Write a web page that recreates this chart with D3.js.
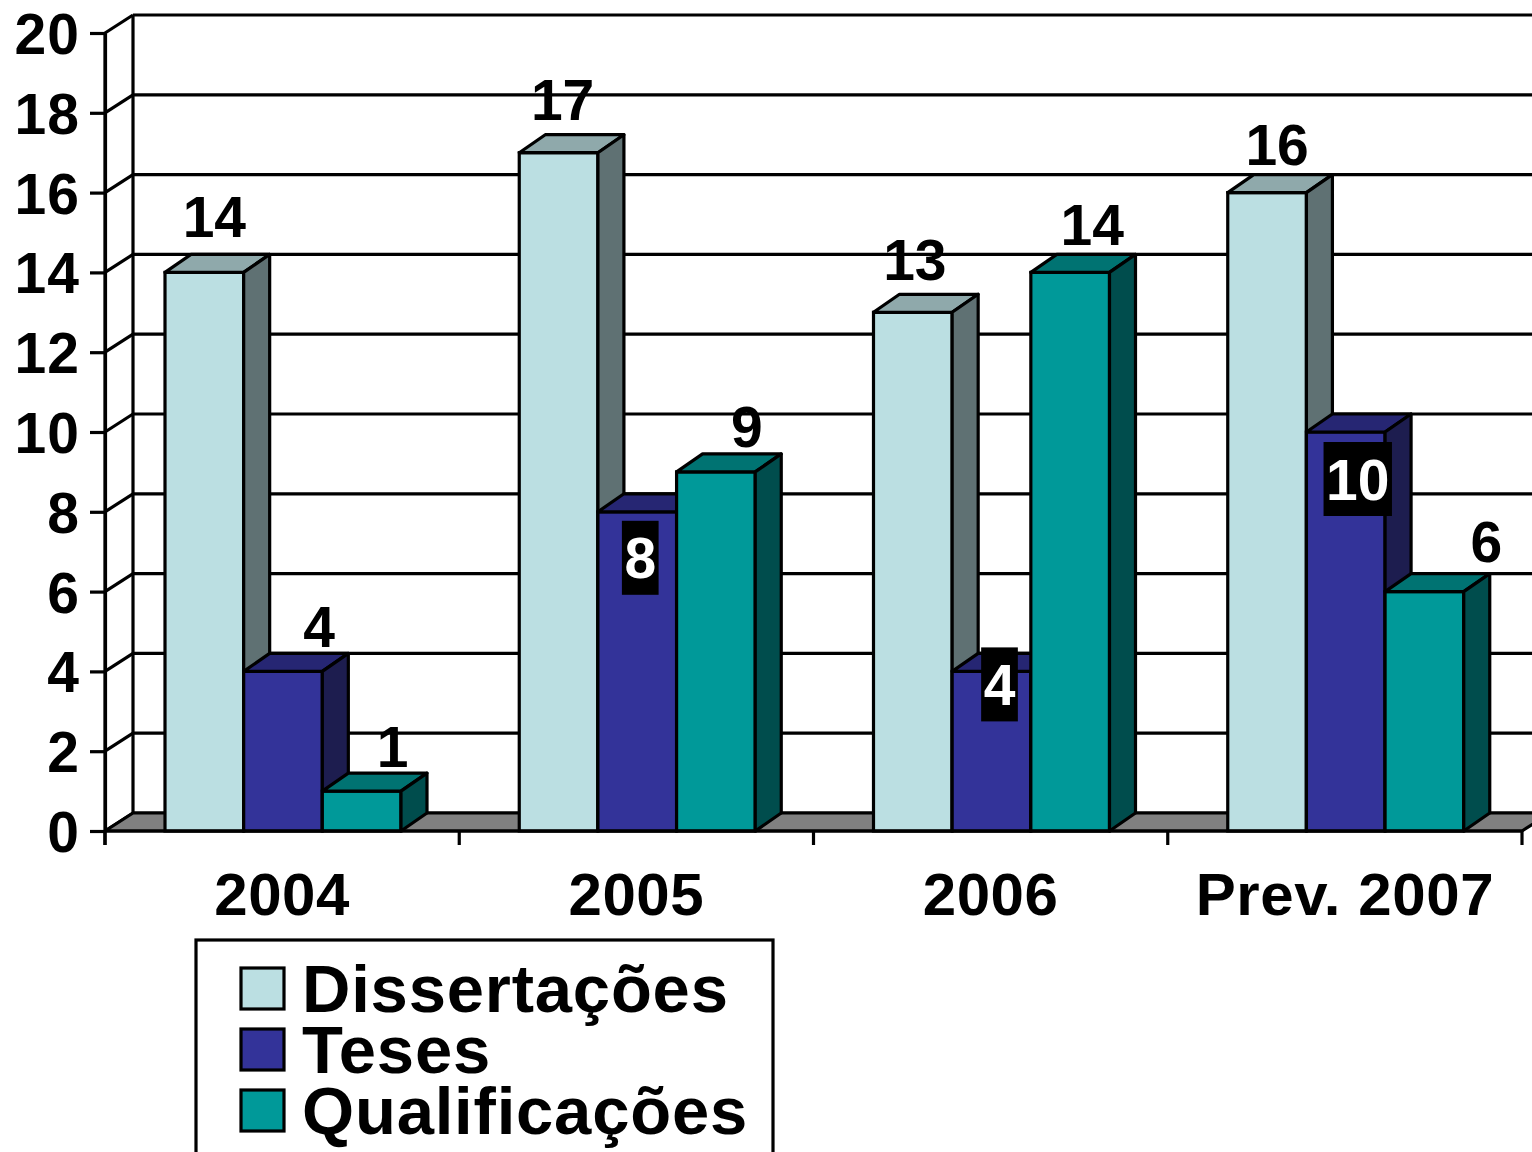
<!DOCTYPE html>
<html>
<head>
<meta charset="utf-8">
<script src="https://cdn.jsdelivr.net/npm/d3@7"></script>
<style>
  html, body { margin: 0; padding: 0; background: #fff; overflow: hidden; }
  svg { display: block; font-family: "Liberation Sans", Arial, Helvetica, sans-serif; font-weight: bold; }
</style>
</head>
<body>
<svg id="chart" width="1532" height="1152"></svg>
<script>
// ---- data ----
const categories = ["2004", "2005", "2006", "Prev. 2007"];
const seriesNames = ["Dissertações", "Teses", "Qualificações"];
const dissertacoes = [14, 17, 13, 16];
const teses = [4, 8, 4, 10];
const qualificacoes = [1, 9, 14, 6];
const yTicks = [0, 2, 4, 6, 8, 10, 12, 14, 16, 18, 20];

const seriesValues = [dissertacoes, teses, qualificacoes];

// ---- styles ----
const faceColors = [
  { front: "#BBDFE2", top: "#8FA9AB", side: "#5F7173" },
  { front: "#333399", top: "#262673", side: "#1D1D4F" },
  { front: "#009999", top: "#007372", side: "#004D4D" }
];
// label placement (per series, per category): dx from front-face centre, dy of baseline / box centre from bar top
const labelLayout = [
  [{dx: 10, dy: -35}, {dx: 4, dy: -33}, {dx: 2, dy: -32}, {dx: 10, dy: -28}],
  [{dx: 36, dy: -24}, {dx: 3, dy: 46, inv: true}, {dx: 8, dy: 13, inv: true}, {dx: 12, dy: 47, inv: true}],
  [{dx: 31, dy: -24}, {dx: 31, dy: -25}, {dx: 22, dy: -27}, {dx: 62, dy: -30}]
];

const svg = d3.select("#chart");
const W = 1532;
const wallDX = 28, wallDY = -18;
const barDX = 26, barDY = -18;
const SW = 3.2;

const y = d3.scaleLinear().domain([0, 20]).range([831, 33]);
const x0 = d3.scaleBand().domain(categories).range([105, 1522]).padding(0);
const x1 = d3.scaleBand().domain(seriesNames).range([60, 296]).padding(0);

const xL = x0.range()[0], xR = x0.range()[1];
const y0 = y(0);

// back-wall grid lines
svg.append("g").selectAll("line").data(yTicks).join("line")
  .attr("x1", xL + wallDX).attr("x2", W + 40)
  .attr("y1", d => y(d) + wallDY).attr("y2", d => y(d) + wallDY)
  .attr("stroke", "#000").attr("stroke-width", SW);

// side wall diagonals
svg.append("g").selectAll("line").data(yTicks).join("line")
  .attr("x1", xL).attr("x2", xL + wallDX)
  .attr("y1", d => y(d)).attr("y2", d => y(d) + wallDY)
  .attr("stroke", "#000").attr("stroke-width", SW);

// back wall left edge
svg.append("line")
  .attr("x1", xL + wallDX).attr("x2", xL + wallDX)
  .attr("y1", y(20) + wallDY).attr("y2", y0 + wallDY)
  .attr("stroke", "#000").attr("stroke-width", SW);

// floor
svg.append("path")
  .attr("d", `M${xL},${y0} L${xL + wallDX},${y0 + wallDY} L${xR + wallDX},${y0 + wallDY} L${xR},${y0} Z`)
  .attr("fill", "#808080").attr("stroke", "#000").attr("stroke-width", SW).attr("stroke-linejoin", "round");

// y axis
const yAxis = d3.axisLeft(y).tickValues(yTicks).tickSize(15).tickSizeOuter(0).tickPadding(10);
const gy = svg.append("g").attr("transform", `translate(${xL},0)`).call(yAxis);
gy.select(".domain").attr("stroke-width", SW);
gy.selectAll(".tick line").attr("stroke-width", SW);
gy.selectAll(".tick text").attr("font-size", 57).attr("font-family", "Liberation Sans, Arial, sans-serif")
  .attr("font-weight", "bold").attr("fill", "#000").attr("x", -25).attr("dy", "0.36em")
  .attr("letter-spacing", 1);

// vertical axis extension down to bottom tick
svg.append("line").attr("x1", xL).attr("x2", xL).attr("y1", y(20)).attr("y2", y0 + 14)
  .attr("stroke", "#000").attr("stroke-width", SW);

// bottom ticks at band boundaries
const boundaries = categories.map(c => x0(c)).concat([xR]);
svg.append("g").selectAll("line").data(boundaries).join("line")
  .attr("x1", d => d).attr("x2", d => d).attr("y1", y0).attr("y2", y0 + 14)
  .attr("stroke", "#000").attr("stroke-width", SW);

// bars (left to right for correct overlap)
const barsG = svg.append("g");
categories.forEach((c, ci) => {
  seriesNames.forEach((s, si) => {
    const v = seriesValues[si][ci];
    const xa = x0(c) + x1(s);
    const xb = xa + x1.bandwidth();
    const yt = y(v);
    const col = faceColors[si];
    const g = barsG.append("g");
    g.append("rect").attr("x", xa).attr("y", yt).attr("width", xb - xa).attr("height", y0 - yt)
      .attr("fill", col.front).attr("stroke", "#000").attr("stroke-width", SW);
    g.append("path")
      .attr("d", `M${xa},${yt} L${xa + barDX},${yt + barDY} L${xb + barDX},${yt + barDY} L${xb},${yt} Z`)
      .attr("fill", col.top).attr("stroke", "#000").attr("stroke-width", SW).attr("stroke-linejoin", "round");
    g.append("path")
      .attr("d", `M${xb},${yt} L${xb + barDX},${yt + barDY} L${xb + barDX},${y0 + barDY} L${xb},${y0} Z`)
      .attr("fill", col.side).attr("stroke", "#000").attr("stroke-width", SW).attr("stroke-linejoin", "round");
  });
});

// front floor edge
svg.append("line").attr("x1", xL).attr("x2", xR).attr("y1", y0).attr("y2", y0)
  .attr("stroke", "#000").attr("stroke-width", SW);

// value labels
const labG = svg.append("g");
categories.forEach((c, ci) => {
  seriesNames.forEach((s, si) => {
    const v = seriesValues[si][ci];
    const cx = x0(c) + x1(s) + x1.bandwidth() / 2;
    const L = labelLayout[si][ci];
    const tx = cx + L.dx;
    if (L.inv) {
      const cy = y(v) + L.dy;
      const t = labG.append("text").attr("x", tx).attr("y", cy).attr("dy", "0.36em")
        .attr("text-anchor", "middle").attr("font-size", 57).attr("fill", "#fff").text(v);
      const bw = t.node().getComputedTextLength() + 5;
      labG.insert("rect", () => t.node())
        .attr("x", tx - bw / 2).attr("y", cy - 37).attr("width", bw).attr("height", 74).attr("fill", "#000");
    } else {
      labG.append("text").attr("x", tx).attr("y", y(v) + L.dy)
        .attr("text-anchor", "middle").attr("font-size", 57).attr("fill", "#000").text(v);
    }
  });
});

// category labels
svg.append("g").selectAll("text").data(categories).join("text")
  .attr("x", d => x0(d) + x0.bandwidth() / 2).attr("y", 915)
  .attr("text-anchor", "middle").attr("font-size", 60).attr("letter-spacing", 0.6)
  .attr("fill", "#000").text(d => d);

// legend
const lg = svg.append("g");
lg.append("rect").attr("x", 196).attr("y", 940).attr("width", 577).attr("height", 260)
  .attr("fill", "#fff").attr("stroke", "#000").attr("stroke-width", SW);
seriesNames.forEach((s, i) => {
  const yy = 968 + i * 61;
  lg.append("rect").attr("x", 241).attr("y", yy).attr("width", 43).attr("height", 41)
    .attr("fill", faceColors[i].front).attr("stroke", "#000").attr("stroke-width", SW);
  lg.append("text").attr("x", 302).attr("y", yy + 44).attr("font-size", 67)
    .attr("letter-spacing", 0.8).attr("fill", "#000").text(s);
});
</script>
</body>
</html>
